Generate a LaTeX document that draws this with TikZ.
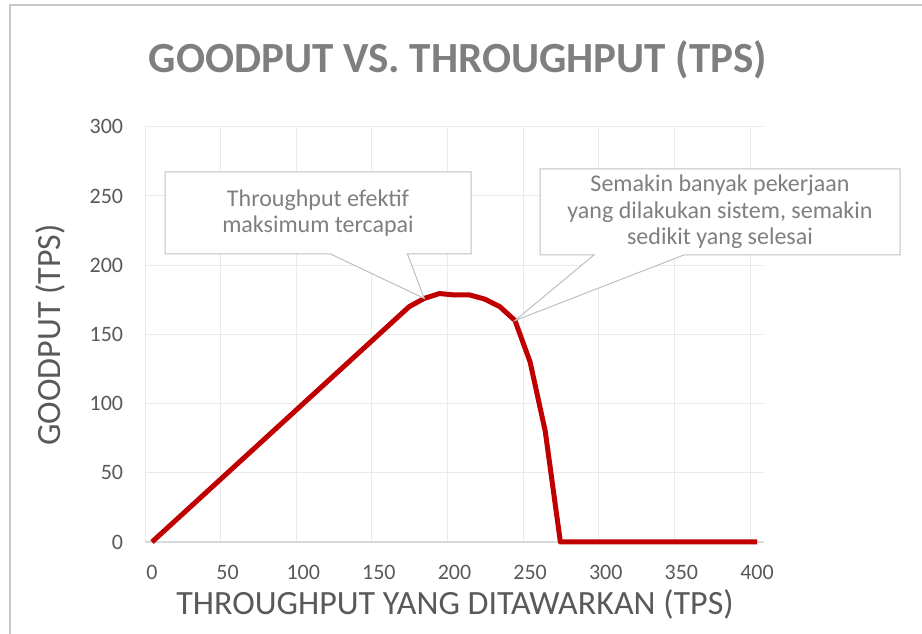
\documentclass[tikz,border=0pt]{standalone}
\usepackage{fontspec}
\setmainfont{Carlito}
\usetikzlibrary{positioning,shapes.callouts}
\definecolor{curvered}{HTML}{C00000}
\definecolor{ticktext}{HTML}{595959}
\definecolor{titletext}{HTML}{7F7F7F}
\definecolor{gridgray}{HTML}{EBEBEB}
\definecolor{axisgray}{HTML}{D9D9D9}
\definecolor{boxgray}{HTML}{BFBFBF}
\definecolor{framegray}{HTML}{C8C8C8}

\begin{document}
\begin{tikzpicture}[x=1pt,y=1pt,
            gridline/.style={draw=gridgray,line width=1pt},
            axisline/.style={draw=axisgray,line width=1.2pt},
            ylab/.style={anchor=east,text=ticktext,font=\fontsize{22}{26}\selectfont,inner sep=0pt},
            xlab/.style={text=ticktext,font=\fontsize{22}{26}\selectfont,inner sep=0pt},
            axistitle/.style={text=ticktext,font=\fontsize{34}{39}\selectfont,inner sep=0pt},
            note/.style={rectangle callout,draw=boxgray,fill=white,line width=1pt,text=titletext,align=center,inner sep=0pt,font=\fontsize{24}{26.5}\selectfont},
            goodput/.style={draw=curvered,line width=5pt,line join=round}
          ]
          \useasboundingbox (0,0) rectangle (922,634);

          %frame
          \draw[framegray,line width=2.5pt] (10,0) -- (10,629) -- (922,629);

          %title
          \node[text=titletext,font=\bfseries\fontsize{43}{50}\selectfont] (title) at (458,574) {GOODPUT VS. THROUGHPUT (TPS)};

          \begin{scope}[shift={(152,92)},x=1.5125pt,y=1.384pt]
          %grid
          \draw[gridline] (-4.6,50) -- (404.6,50);
          \draw[gridline] (-4.6,100) -- (404.6,100);
          \draw[gridline] (-4.6,150) -- (404.6,150);
          \draw[gridline] (-4.6,200) -- (404.6,200);
          \draw[gridline] (-4.6,250) -- (404.6,250);
          \draw[gridline] (-4.6,300) -- (404.6,300);
          \draw[gridline] (-4.6,0) -- (-4.6,300);
          \draw[gridline] (45.4,0) -- (45.4,300);
          \draw[gridline] (95.4,0) -- (95.4,300);
          \draw[gridline] (145.4,0) -- (145.4,300);
          \draw[gridline] (195.4,0) -- (195.4,300);
          \draw[gridline] (245.4,0) -- (245.4,300);
          \draw[gridline] (295.4,0) -- (295.4,300);
          \draw[gridline] (345.4,0) -- (345.4,300);
          \draw[gridline] (395.4,0) -- (395.4,300);
          \draw[axisline] (-4.6,0) -- (404.6,0);

          %tick labels
          \node[ylab] (y0) at (-19,0) {0};
          \node[ylab] (y50) at (-19,50) {50};
          \node[ylab] (y100) at (-19,100) {100};
          \node[ylab] (y150) at (-19,150) {150};
          \node[ylab] (y200) at (-19,200) {200};
          \node[ylab] (y250) at (-19,250) {250};
          \node[ylab] (y300) at (-19,300) {300};
          \node[xlab] (x0) at (0,-21.7) {0};
          \node[xlab] (x50) at (50,-21.7) {50};
          \node[xlab] (x100) at (100,-21.7) {100};
          \node[xlab] (x150) at (150,-21.7) {150};
          \node[xlab] (x200) at (200,-21.7) {200};
          \node[xlab] (x250) at (250,-21.7) {250};
          \node[xlab] (x300) at (300,-21.7) {300};
          \node[xlab] (x350) at (350,-21.7) {350};
          \node[xlab] (x400) at (400,-21.7) {400};

          %curve
          \draw[goodput] (0,0) -- (170,170) -- (180,176) -- (190,179.5) -- (200,178.5) -- (210,178.5)
            -- (220,175.5) -- (230,170) -- (240,160) -- (250,130) -- (260,80) -- (270,0) -- (400,0);
          \coordinate (maxpt) at (180,176);
          \coordinate (droppt) at (240,160);
          \end{scope}

          %axis titles
          \node[axistitle] (xtitle) at (455,30) {THROUGHPUT YANG DITAWARKAN (TPS)};
          \node[axistitle,rotate=90] (ytitle) at (50,299) {GOODPUT (TPS)};

          %callouts
          \node[note,minimum width=306pt,minimum height=82pt,callout absolute pointer={(maxpt)},callout pointer width=77pt] (maxnote) at (318,421) {Throughput efektif\\maksimum tercapai};
          \node[note,minimum width=360pt,minimum height=86pt,callout absolute pointer={(droppt)},callout pointer width=90pt] (dropnote) at (720,422) {Semakin banyak pekerjaan\\yang dilakukan sistem, semakin\\sedikit yang selesai};

      \end{tikzpicture}
\end{document}
